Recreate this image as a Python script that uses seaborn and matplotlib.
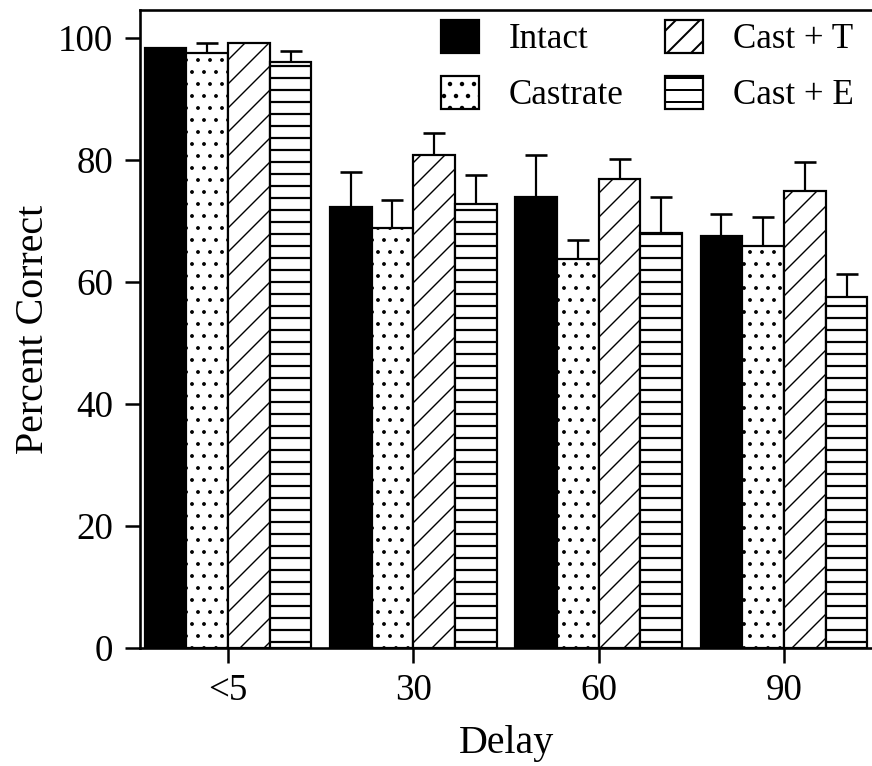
import numpy as np
import pandas as pd
import matplotlib
matplotlib.use("Agg")
import matplotlib.pyplot as plt
import seaborn as sns

# ---- data ----
delays = ["<5", "30", "60", "90"]
groups = ["Intact", "Castrate", "Cast + T", "Cast + E"]
intact = [98.4, 72.3, 73.9, 67.6]
intact_err = [0.0, 5.7, 6.9, 3.6]
castrate = [97.5, 68.8, 63.7, 65.9]
castrate_err = [1.7, 4.6, 3.2, 4.7]
cast_t = [99.2, 80.8, 76.9, 75.0]
cast_t_err = [0.0, 3.6, 3.2, 4.6]
cast_e = [96.0, 72.8, 68.0, 57.6]
cast_e_err = [1.9, 4.7, 5.9, 3.7]
y_ticks = [0, 20, 40, 60, 80, 100]

colors = ["black", "white", "white", "white"]
hatches = ["", ".", "/", "-"]

sns.set_theme(style="ticks")
plt.rcParams["font.family"] = ["Liberation Serif", "DejaVu Serif"]
plt.rcParams["hatch.linewidth"] = 2.0
plt.rcParams["hatch.color"] = "black"
plt.rcParams["text.color"] = "black"
plt.rcParams["axes.labelcolor"] = "black"
plt.rcParams["xtick.color"] = "black"
plt.rcParams["ytick.color"] = "black"
plt.rcParams["axes.edgecolor"] = "black"

rows = []
for g, vals, errs in zip(groups, [intact, castrate, cast_t, cast_e],
                         [intact_err, castrate_err, cast_t_err, cast_e_err]):
    for d, v, e in zip(delays, vals, errs):
        rows.append({"Delay": d, "Group": g, "Percent": v, "Err": e})
df = pd.DataFrame(rows)

W, H = 872, 766
fig = plt.figure(figsize=(W / 72, H / 72), dpi=72)
ax = fig.add_axes([140 / W, 118 / H, 732 / W, 638 / H])

sns.barplot(data=df, x="Delay", y="Percent", hue="Group", order=delays,
            hue_order=groups, palette=colors, saturation=1, width=0.90,
            errorbar=None, edgecolor="black", linewidth=2.2, legend=False,
            ax=ax)

for cont, h in zip(ax.containers, hatches):
    for p in cont:
        p.set_hatch(h)
        p.set_edgecolor("black")
        if hasattr(p, "set_hatch_linewidth"):
            p.set_hatch_linewidth(1.4 if h in ("/", ".") else 2.2)

# error bars (upper only) with caps
for cont, g in zip(ax.containers, groups):
    sub = df[df["Group"] == g].set_index("Delay").loc[delays]
    xs = np.array([p.get_x() + p.get_width() / 2 for p in cont])
    ys = sub["Percent"].to_numpy()
    es = sub["Err"].to_numpy()
    m = es > 0
    ax.vlines(xs[m], ys[m], ys[m] + es[m], color="black", lw=2.2, zorder=4)
    ax.plot(xs[m], ys[m] + es[m], linestyle="none", marker="_",
            markersize=22, markeredgewidth=2.6, color="black", zorder=4)

ax.set_xlim(-0.475, 3.475)
ax.set_ylim(0, 104.6)
ax.set_yticks(y_ticks)
ax.tick_params(axis="both", direction="out", length=15, width=2.5,
               labelsize=37, colors="black")
ax.tick_params(axis="y", pad=12)
ax.tick_params(axis="x", pad=11)
for s in ["left", "bottom", "top"]:
    ax.spines[s].set_linewidth(2.6)
    ax.spines[s].set_color("black")
ax.spines["right"].set_visible(False)

ax.set_xlabel("Delay", fontsize=40, labelpad=16)
ax.set_ylabel("Percent Correct", fontsize=40, labelpad=6)

ax.legend(ax.containers, groups, loc="upper right", ncol=2, frameon=False,
          fontsize=35, handlelength=1.09, handleheight=1.11,
          handletextpad=0.86, columnspacing=1.17, labelspacing=0.55,
          borderpad=0, borderaxespad=0,
          bbox_to_anchor=(0.975, 0.985))

fig.savefig("out.png", dpi=72)
